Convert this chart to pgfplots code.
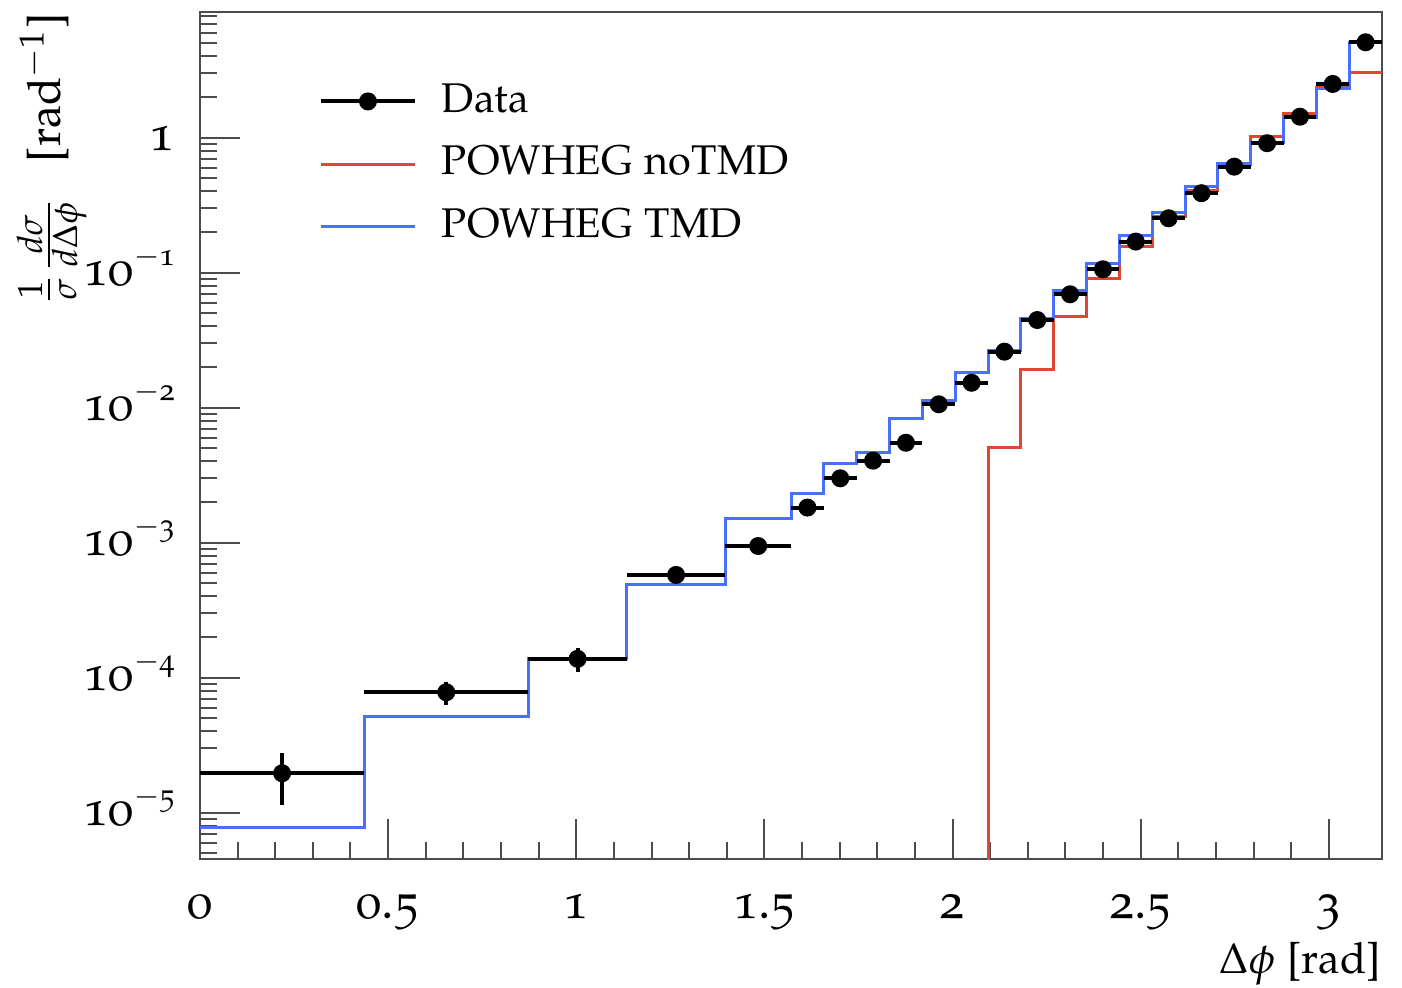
\documentclass[border=0pt]{standalone}
\usepackage[T1]{fontenc}
\usepackage[osf]{mathpazo}
\usepackage{pgfplots}
\pgfplotsset{compat=1.18}

\definecolor{rootred}{RGB}{222,72,48}
\definecolor{rootblue}{RGB}{72,112,250}

% POWHEG TMD: left bin edge, value (last row closes the final bin)
\pgfplotstableread{
xlo      y
0        7.74e-6
0.43633  5.2e-5
0.87266  1.38e-4
1.13446  4.94e-4
1.39626  1.50e-3
1.57080  2.30e-3
1.65806  3.83e-3
1.74533  4.67e-3
1.83260  8.34e-3
1.91986  1.14e-2
2.00713  1.83e-2
2.09440  2.65e-2
2.18166  4.60e-2
2.26893  7.36e-2
2.35619  0.117
2.44346  0.188
2.53073  0.278
2.61799  0.434
2.70526  0.646
2.79253  0.925
2.87979  1.42
2.96706  2.32
3.05433  5.09
3.14159  5.09
}\tmd

% POWHEG noTMD: empty below 2.094 (1e-7 stands for zero, off the axis)
\pgfplotstableread{
xlo      y
2.09440  1e-7
2.09440  5.09e-3
2.18166  1.93e-2
2.26893  4.72e-2
2.35619  8.98e-2
2.44346  0.156
2.53073  0.260
2.61799  0.403
2.70526  0.628
2.79253  1.02
2.87979  1.50
2.96706  2.36
3.05433  3.05
3.14159  3.05
}\notmd

% Data: bin centre, value, half bin width, error
\pgfplotstableread{
x        y        ex       ey
0.21817  1.96e-5  0.21817  8.2e-6
0.65450  7.8e-5   0.21817  1.5e-5
1.00356  1.38e-4  0.13090  2.7e-5
1.26536  5.77e-4  0.13090  3.0e-5
1.48353  9.45e-4  0.08727  4.0e-5
1.61443  1.82e-3  0.04363  6.0e-5
1.70170  3.00e-3  0.04363  9.0e-5
1.78896  4.05e-3  0.04363  1.2e-4
1.87623  5.50e-3  0.04363  1.6e-4
1.96350  1.06e-2  0.04363  3.0e-4
2.05076  1.53e-2  0.04363  4.0e-4
2.13803  2.60e-2  0.04363  7.0e-4
2.22529  4.46e-2  0.04363  1.2e-3
2.31256  6.92e-2  0.04363  1.8e-3
2.39983  0.106    0.04363  2.8e-3
2.48709  0.170    0.04363  4.5e-3
2.57436  0.253    0.04363  6.5e-3
2.66163  0.388    0.04363  1.0e-2
2.74889  0.61     0.04363  1.6e-2
2.83616  0.91     0.04363  2.4e-2
2.92343  1.43     0.04363  3.8e-2
3.01069  2.50     0.04363  6.5e-2
3.09796  5.09     0.04363  0.13
}\data

\begin{document}
\begin{tikzpicture}
\begin{axis}[
  scale only axis, width=236.4pt, height=169.4pt,
  ymode=log,
  xmin=0, xmax=3.14159, ymin=4.54e-6, ymax=8.53,
  axis line style={black!70, line width=0.45pt},
  every tick/.style={black!70, line width=0.4pt},
  tick align=inside, tick pos=left,
  major tick length=8pt, minor tick length=3.5pt,
  xtick={0,0.5,1,1.5,2,2.5,3},
  xticklabels={0,0.5,1,1.5,2,2.5,3},
  minor x tick num=4,
  xticklabel style={font=\fontsize{10}{12}\selectfont, inner sep=0pt, yshift=-6.8pt},
  yticklabel={\pgfmathtruncatemacro\myexp{round(\tick/ln(10))}%
    \ifnum\myexp=0 1\else 10\raisebox{3.9pt}{\fontsize{6.2}{6.2}\selectfont$-$\the\numexpr-\myexp\relax}\fi},
  yticklabel style={font=\fontsize{10}{12}\selectfont, anchor=base east, inner sep=0pt, xshift=-4.8pt, yshift=-2.5pt},
  xlabel={$\Delta\phi$ [rad]},
  xlabel style={font=\fontsize{8.6}{10}\selectfont, at={(axis description cs:1,0)}, anchor=north east, inner sep=0pt, yshift=-16.5pt},
  ylabel={$\frac{1}{\sigma}\frac{d\sigma}{d\Delta\phi}$\hspace{0.75em}[rad$^{-1}$]},
  ylabel style={font=\fontsize{9.2}{11}\selectfont, at={(axis description cs:-0.095,1)}, anchor=south east, inner sep=0pt},
  legend style={draw=none, fill=none, at={(axis description cs:0.0998,0.917)}, anchor=north west,
                font=\fontsize{8.3}{10}\selectfont, row sep=5.3pt, inner sep=0pt,
                nodes={inner sep=0pt},
                /tikz/every odd column/.append style={column sep=5pt}},
  legend cell align=left,
  clip=true,
]
\addplot[const plot, rootred, line width=0.6pt, forget plot] table[x=xlo, y=y] {\notmd};
\addplot[const plot, rootblue, line width=0.6pt, forget plot] table[x=xlo, y=y] {\tmd};
\addplot[only marks, mark=*, mark size=1.6pt, black,
         legend image code/.code={\draw[black, line width=0.8pt] (0pt,0pt) -- (18.8pt,0pt);
                                  \fill[black] (9.4pt,0pt) circle (1.6pt);},
         error bars/.cd, x dir=both, x explicit, y dir=both, y explicit,
         error mark=none, error bar style={black, line width=0.8pt}]
  table[x=x, y=y, x error=ex, y error=ey] {\data};
\addlegendentry{Data}
\addlegendimage{legend image code/.code={\draw[rootred, line width=0.6pt] (0pt,0pt) -- (18.8pt,0pt);}}
\addlegendentry{POWHEG noTMD}
\addlegendimage{legend image code/.code={\draw[rootblue, line width=0.6pt] (0pt,0pt) -- (18.8pt,0pt);}}
\addlegendentry{POWHEG TMD}
\end{axis}
\pgfresetboundingbox
\path[use as bounding box] ([shift={(-40pt,-25.8pt)}]current axis.south west) rectangle ([shift={(4pt,2.4pt)}]current axis.north east);
\end{tikzpicture}
\end{document}
